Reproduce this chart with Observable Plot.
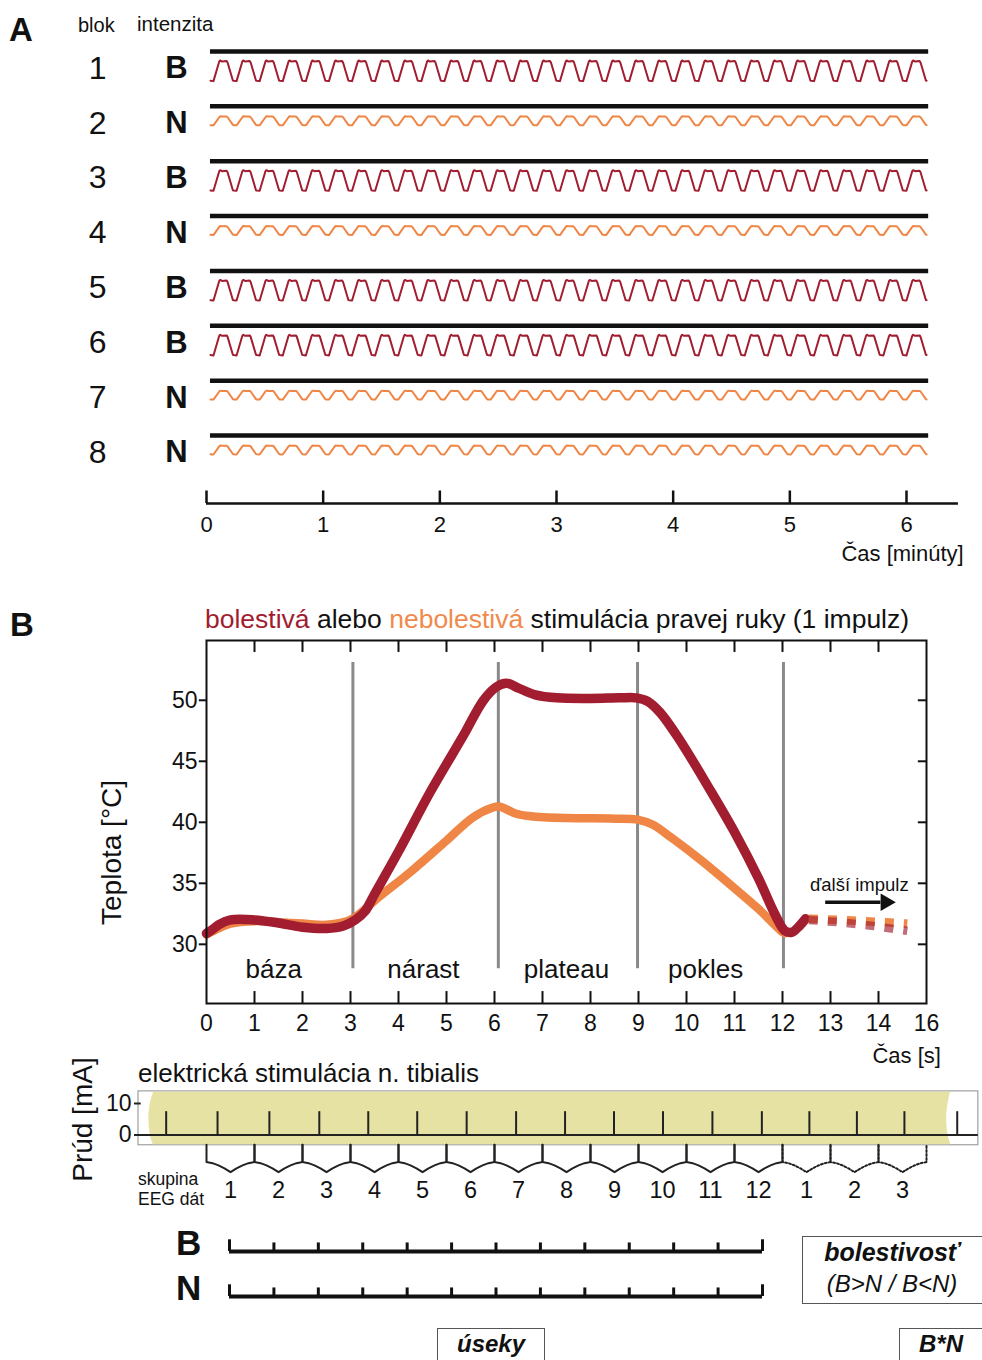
<!DOCTYPE html>
<html><head><meta charset="utf-8">
<script src="https://cdn.jsdelivr.net/npm/d3@7"></script>
<script src="https://cdn.jsdelivr.net/npm/@observablehq/plot@0.6"></script>
<style>
html,body{margin:0;padding:0;background:#fff;}
#fig{position:relative;width:982px;height:1360px;overflow:hidden;font-family:"Liberation Sans",Arial,Helvetica,sans-serif;color:#111;background:#fff;}
#fig svg{position:absolute;left:0;top:0;}
.lbl{position:absolute;white-space:nowrap;line-height:1;}
.ctr{transform:translateX(-50%);}
.box{position:absolute;border:1.5px solid #555;box-sizing:border-box;}
</style></head><body><div id="fig"></div>
<script>
// ---------------- DATA ----------------
// Panel A: blocks of stimulation (6 minutes each)
const blocks = [1, 2, 3, 4, 5, 6, 7, 8];
const intensities = ["B", "N", "B", "N", "B", "B", "N", "N"];
const minuteTicks = [0, 1, 2, 3, 4, 5, 6];
const blockStartMin = 0.034, blockEndMin = 6.19;
const stimPeriodMin = 0.198, stimCycles = 31;
// one stimulus cycle (phase within cycle, relative level)
const cyclePhase  = [0, 0.13, 0.38, 0.42, 0.50, 0.70, 0.74, 0.97, 1];
const cycleLevelB = [0.02, 0, 0.95, 1, 0.95, 0.97, 0.90, 0.03, 0.02];
const cycleLevelN = [0.02, 0, 0.90, 1, 0.97, 0.97, 0.90, 0.05, 0.02];

// Panel B: temperature of one impulse
const secTickLabels = ["0","1","2","3","4","5","6","7","8","9","10","11","12","13","14","16"];
const tempTicks = [30, 35, 40, 45, 50];
const phaseBounds = [3.05, 6.08, 8.98, 12.02];
const phaseNames = ["báza", "nárast", "plateau", "pokles"];
const phaseCenters = [1.4, 4.52, 7.5, 10.4];
const redT = [0, 0.12, 0.25, 0.5, 1.0, 1.5, 2.0, 2.5, 2.85, 3.1, 3.3, 3.5, 4.0, 4.65, 5.35, 5.77, 6.04, 6.25, 6.5, 6.85, 7.3, 8.0, 8.6, 8.95, 9.2, 9.45, 9.85, 10.5, 11.0, 11.5, 11.85, 12.05, 12.2, 12.35, 12.48];
const redV = [30.9, 31.2, 31.6, 32.0, 32.0, 31.75, 31.4, 31.3, 31.5, 32.0, 32.7, 34.1, 37.6, 42.4, 47.1, 50.0, 51.1, 51.4, 51.0, 50.45, 50.2, 50.15, 50.2, 50.2, 49.9, 49.0, 46.8, 42.6, 39.2, 35.4, 32.4, 31.1, 31.0, 31.5, 32.1];
const orangeT = [0, 0.25, 0.5, 1.0, 1.5, 2.0, 2.5, 3.0, 3.6, 4.3, 5.0, 5.55, 5.95, 6.1, 6.45, 6.75, 7.5, 8.5, 9.0, 9.3, 9.7, 10.3, 11.0, 11.5, 12.0, 12.05];
const orangeV = [30.8, 31.3, 31.7, 31.9, 31.8, 31.7, 31.6, 32.0, 33.9, 36.1, 38.5, 40.4, 41.2, 41.3, 40.7, 40.5, 40.35, 40.3, 40.2, 39.8, 38.7, 36.9, 34.6, 32.9, 31.0, 30.9];
const nextT = [12.55, 13.2, 13.9, 14.6];
const nextOrangeV = [32.1, 32.0, 31.85, 31.7];
const nextRedV = [32.0, 31.8, 31.5, 31.1];

// Electrical stimulation of n. tibialis
const spikeTimes = [-0.84, 0.23, 1.31, 2.35, 3.37, 4.39, 5.42, 6.45, 7.47, 8.49, 9.51, 10.54, 11.57, 12.56, 13.55, 14.54, 15.64];
const spikeAmp = 7.4;
const currentTicks = [0, 10];
const groupLabels = ["1","2","3","4","5","6","7","8","9","10","11","12","1","2","3"];
const groupDotted = [false,false,false,false,false,false,false,false,false,false,false,false,true,true,true];
const bandY = [-3.1, 0, 5, 10, 13.6];
const bandLeft = [-1.11, -1.17, -1.2, -1.17, -1.1];
const bandRight = [15.51, 15.45, 15.42, 15.45, 15.5];

// Bottom: segments
const condRows = ["B", "N"];
const segmentTicks = [0,1,2,3,4,5,6,7,8,9,10,11,12];

// ---------------- DRAWING ----------------
const W = 982, H = 1360;
const fig = document.getElementById("fig");
const FONT = '"Liberation Sans", Arial, Helvetica, sans-serif';
const RED = "#a11d2f", ORANGE = "#ef8646", INK = "#111", BAND = "#e6e2a4";
const baseStyle = {background: "transparent", fontFamily: FONT, color: INK, overflow: "visible"};
const add = (p) => fig.appendChild(p);

// Panel A rows
const rows = blocks.map((b, i) => ({block: b, k: intensities[i]}));
const wave = [];
rows.forEach(r => {
  const lv = r.k === "B" ? cycleLevelB : cycleLevelN;
  const top = r.k === "B" ? 0.164 : 0.182, bot = r.k === "B" ? 0.54 : 0.346;
  for (let c = 0; c < stimCycles; c++) {
    cyclePhase.forEach((ph, j) => {
      if (c > 0 && j === 0) return;
      wave.push({block: r.block, k: r.k, m: blockStartMin + (c + ph) * stimPeriodMin, y: r.block + bot - lv[j] * (bot - top)});
    });
  }
});
add(Plot.plot({
  width: W, height: H, margin: 0, style: baseStyle,
  x: {domain: [0, 6], range: [206, 906], axis: null},
  y: {domain: [1, 8], range: [51, 435], axis: null},
  marks: [
    Plot.ruleY(rows, {y: "block", x1: blockStartMin, x2: blockEndMin, stroke: INK, strokeWidth: 4.5}),
    Plot.line(wave, {x: "m", y: "y", z: "block", stroke: d => d.k === "B" ? RED : ORANGE, strokeWidth: 2}),
    Plot.text(rows, {x: -0.934, y: d => d.block + 0.31, text: d => String(d.block), fontSize: 32}),
    Plot.text(rows, {x: -0.257, y: d => d.block + 0.31, text: "k", fontSize: 31, fontWeight: "bold"})
  ]
}));

// Panel A time axis
add(Plot.plot({
  width: W, height: H, marginLeft: 206, marginRight: 24, marginTop: 490.5, marginBottom: 857, style: baseStyle,
  x: {domain: [0, 6], range: [206, 906]},
  y: {domain: [0, 1], axis: null},
  marks: [
    Plot.ruleY([0], {x1: 0, x2: 6.445, stroke: INK, strokeWidth: 2.5}),
    Plot.ruleX(minuteTicks, {y1: 0, y2: 1, stroke: INK, strokeWidth: 2.5}),
    Plot.axisX(minuteTicks, {anchor: "bottom", tickSize: 0, tickPadding: 13, tickFormat: d => String(d), fontSize: 22, label: null}),
    Plot.text(["Čas [minúty]"], {x: 6.49, y: -4.0, text: d => d, textAnchor: "end", fontSize: 22})
  ]
}));

// Panel B chart
const xPos = secTickLabels.map((_, i) => i);
const Y0 = 25.15, Y1 = 54.9;
const red = redT.map((t, i) => ({t, v: redV[i]}));
const orange = orangeT.map((t, i) => ({t, v: orangeV[i]}));
const nextImp = nextT.map((t, i) => ({t, o: nextOrangeV[i], r: nextRedV[i]}));
add(Plot.plot({
  width: W, height: H, marginLeft: 206, marginRight: 56, marginTop: 640, marginBottom: 357, style: baseStyle,
  x: {domain: [0, 15]},
  y: {domain: [Y0, Y1]},
  marks: [
    Plot.ruleX(phaseBounds, {y1: 28.0, y2: 53.1, stroke: "#8a8a8a", strokeWidth: 3}),
    Plot.text(phaseNames, {x: (d, i) => phaseCenters[i], y: 27.95, text: d => d, fontSize: 26}),
    Plot.line(orange, {x: "t", y: "v", stroke: ORANGE, strokeWidth: 8.5, curve: "catmull-rom"}),
    Plot.line(red, {x: "t", y: "v", stroke: RED, strokeWidth: 9.5, curve: "catmull-rom"}),
    Plot.line(nextImp, {x: "t", y: "o", stroke: ORANGE, strokeWidth: 8.5, strokeDasharray: "9,10", strokeLinecap: "butt"}),
    Plot.line(nextImp, {x: "t", y: "r", stroke: RED, strokeOpacity: 0.65, strokeWidth: 8.5, strokeDasharray: "9,10", strokeLinecap: "butt"}),
    Plot.ruleY([33.45], {x1: 12.9, x2: 14.05, stroke: INK, strokeWidth: 3.5}),
    Plot.dot([33.45], {x: 14.15, y: d => d, symbol: "triangle", rotate: 90, r: 6.5, fill: INK, stroke: null}),
    Plot.text(["ďalší impulz"], {x: 13.6, y: 34.83, text: d => d, fontSize: 18.5}),
    Plot.frame({stroke: INK, strokeWidth: 2}),
    Plot.ruleX(xPos.slice(1, -1), {y1: Y0, y2: Y0 + 0.98, stroke: INK, strokeWidth: 2}),
    Plot.ruleX(xPos.slice(1, -1), {y1: Y1, y2: Y1 - 0.98, stroke: INK, strokeWidth: 2}),
    Plot.ruleY(tempTicks, {x1: -0.15, x2: 0, stroke: INK, strokeWidth: 2}),
    Plot.ruleY(tempTicks, {x1: 15, x2: 14.83, stroke: INK, strokeWidth: 2}),
    Plot.axisX(xPos, {anchor: "bottom", tickSize: 0, tickPadding: 11, tickFormat: d => secTickLabels[d], fontSize: 23, label: null}),
    Plot.axisY(tempTicks, {anchor: "left", tickSize: 0, tickPadding: 9, fontSize: 23, label: null}),
    Plot.text(["Čas [s]"], {x: 15.3, y: 20.85, text: d => d, textAnchor: "end", fontSize: 22}),
    Plot.text(["Teplota [°C]"], {x: -1.96, y: 37.53, text: d => d, rotate: -90, fontSize: 28})
  ]
}));

// Stimulation current panel
const band = bandY.map((y, i) => ({y, l: bandLeft[i], r: bandRight[i]}));
const BR_TOP = -3.1, BR_MID = -8.6, BR_LOW = -11.8;
const halfF = [0, 0.25, 0.5, 0.75, 1];
const brackets = [];
groupLabels.forEach((g, i) => {
  const pts = [[i, BR_TOP]];
  halfF.forEach(f => pts.push([i + 0.5 * f, BR_MID + (BR_LOW - BR_MID) * Math.pow(f, 1.6)]));
  halfF.slice(0, -1).reverse().forEach(f => pts.push([i + 1 - 0.5 * f, BR_MID + (BR_LOW - BR_MID) * Math.pow(f, 1.6)]));
  pts.push([i + 1, BR_TOP]);
  pts.forEach(p => brackets.push({g: i, dotted: groupDotted[i], x: p[0], y: p[1]}));
});
add(Plot.plot({
  width: W, height: H, margin: 0, style: baseStyle,
  x: {domain: [0, 15], range: [206, 926], axis: null},
  y: {domain: [0, 10], range: [1134.5, 1103], axis: null},
  marks: [
    Plot.rect([0], {x1: -1.417, x2: 16.08, y1: -3.25, y2: 13.85, stroke: "#a0a0a0", strokeWidth: 1.2, fill: "white"}),
    Plot.areaX(band, {y: "y", x1: "l", x2: "r", fill: BAND, curve: "natural"}),
    Plot.ruleY([0], {x1: -1.417, x2: 16.08, stroke: "#222", strokeWidth: 2}),
    Plot.ruleX(spikeTimes, {y1: 0, y2: spikeAmp, stroke: "#222", strokeWidth: 2}),
    Plot.ruleY(currentTicks, {x1: -1.5, x2: -1.36, stroke: "#222", strokeWidth: 2}),
    Plot.text(currentTicks, {x: -1.56, y: d => d, text: d => String(d), textAnchor: "end", fontSize: 23}),
    Plot.text(["Prúd [mA]"], {x: -2.58, y: 4.9, text: d => d, rotate: -90, fontSize: 28}),
    Plot.line(brackets.filter(d => d.dotted), {x: "x", y: "y", z: "g", stroke: "#222", strokeWidth: 2, strokeDasharray: "2,2"}),
    Plot.line(brackets.filter(d => !d.dotted), {x: "x", y: "y", z: "g", stroke: "#222", strokeWidth: 2}),
    Plot.text(groupLabels, {x: (d, i) => i + 0.5, y: -17.6, text: d => d, fontSize: 23.5})
  ]
}));

// Bottom B / N segment lines
const segTicks = [];
condRows.forEach((c, r) => segmentTicks.forEach(s => segTicks.push({r, s, end: s === 0 || s === segmentTicks.length - 1})));
add(Plot.plot({
  width: W, height: H, margin: 0, style: baseStyle,
  x: {domain: [0, 12], range: [229, 762], axis: null},
  y: {domain: [0, 1], range: [1251, 1296], axis: null},
  marks: [
    Plot.ruleY(condRows, {y: (d, i) => i, x1: 0, x2: 12, stroke: INK, strokeWidth: 4}),
    Plot.ruleX(segTicks, {x: "s", y1: "r", y2: d => d.r - (d.end ? 0.26 : 0.19), stroke: INK, strokeWidth: 3}),
    Plot.text(condRows, {x: -0.92, y: (d, i) => i - 0.18, text: d => d, fontSize: 35, fontWeight: "bold"})
  ]
}));

// HTML annotation text
function lbl(html, x, baseline, size, extra = "", center = false) {
  const d = document.createElement("div");
  d.className = "lbl" + (center ? " ctr" : "");
  d.style.left = x + "px";
  d.style.top = (baseline - 0.847 * size) + "px";
  d.style.fontSize = size + "px";
  if (extra) d.style.cssText += extra;
  d.innerHTML = html;
  fig.appendChild(d);
}
function box(x, y, w, h) {
  const d = document.createElement("div");
  d.className = "box";
  d.style.left = x + "px"; d.style.top = y + "px"; d.style.width = w + "px"; d.style.height = h + "px";
  fig.appendChild(d);
}
lbl("A", 9, 41, 33, "font-weight:bold;");
lbl("blok", 78, 31.5, 20);
lbl("intenzita", 137, 31.5, 20.5);
lbl("B", 10, 636, 33, "font-weight:bold;");
lbl(`<span style="color:${RED}">bolestivá</span> alebo <span style="color:#f08a4c">nebolestivá</span> stimulácia pravej ruky (1 impulz)`, 205, 628, 26.5);
lbl("elektrická stimulácia n. tibialis", 138, 1082, 26);
lbl("skupina", 138, 1186, 17.5);
lbl("EEG dát", 138, 1206, 17.5);
box(802, 1236, 200, 68);
lbl("bolestivosť", 892, 1261, 25, "font-weight:bold;font-style:italic;", true);
lbl("(B&gt;N / B&lt;N)", 892, 1292, 24, "font-style:italic;", true);
box(437, 1328, 108, 60);
lbl("úseky", 491, 1352.5, 24, "font-weight:bold;font-style:italic;", true);
box(899, 1328, 120, 60);
lbl("B*N", 941, 1352.5, 24, "font-weight:bold;font-style:italic;", true);
</script></body></html>
